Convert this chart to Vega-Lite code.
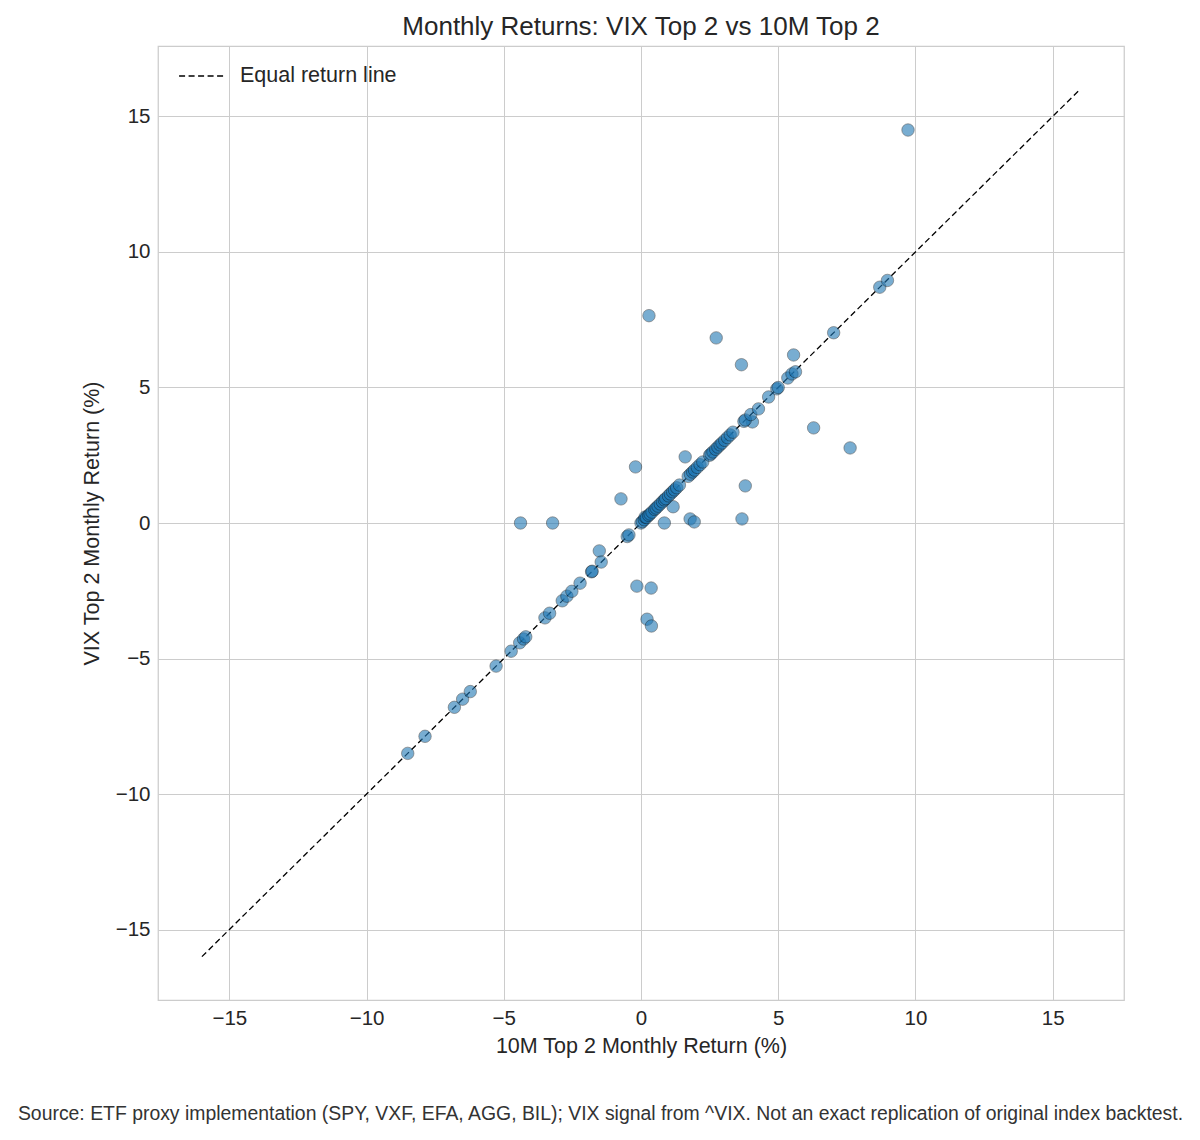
{
  "$schema": "https://vega.github.io/schema/vega-lite/v6.json",
  "width": 966,
  "height": 954,
  "autosize": {"type": "none"},
  "padding": {"left": 158, "top": 46, "right": 76, "bottom": 140},
  "background": "white",
  "title": {
    "text": "Monthly Returns: VIX Top 2 vs 10M Top 2",
    "font": "Liberation Sans",
    "fontSize": 26,
    "fontWeight": "normal",
    "color": "#262626",
    "offset": 6
  },
  "config": {
    "view": {"stroke": "#cccccc", "strokeWidth": 1.25},
    "axis": {
      "domain": false,
      "ticks": false,
      "gridColor": "#cccccc",
      "gridWidth": 1,
      "labelFont": "Liberation Sans",
      "labelFontSize": 20.5,
      "labelColor": "#262626",
      "labelPadding": 8,
      "titleFont": "Liberation Sans",
      "titleFontSize": 21.5,
      "titleFontWeight": "normal",
      "titleColor": "#262626"
    },
    "legend": {
      "labelFont": "Liberation Sans",
      "labelFontSize": 21.5,
      "labelColor": "#262626"
    }
  },
  "resolve": {"axis": {"x": "independent"}},
  "layer": [
    {
      "data": {
        "values": [
          {"vm": -16, "vix": -16, "series": "Equal return line"},
          {"vm": 16, "vix": 16, "series": "Equal return line"}
        ]
      },
      "mark": {"type": "line", "color": "black", "strokeWidth": 1.3},
      "encoding": {
        "x": {
          "field": "vm",
          "type": "quantitative",
          "scale": {"domain": [-17.6, 17.6], "nice": false, "zero": false},
          "axis": {
            "orient": "bottom",
            "values": [-15, -10, -5, 0, 5, 10, 15],
            "title": "10M Top 2 Monthly Return (%)",
            "titlePadding": 7
          }
        },
        "y": {
          "field": "vix",
          "type": "quantitative",
          "scale": {"domain": [-17.6, 17.6], "nice": false, "zero": false},
          "axis": {
            "values": [-15, -10, -5, 0, 5, 10, 15],
            "title": "VIX Top 2 Monthly Return (%)",
            "titlePadding": 12
          }
        },
        "strokeDash": {
          "field": "series",
          "type": "nominal",
          "scale": {"range": [[6, 3.5]]},
          "legend": {
            "title": null,
            "orient": "none",
            "legendX": 20,
            "legendY": 6,
            "symbolType": "stroke",
            "symbolSize": 2100,
            "symbolStrokeColor": "black",
            "symbolStrokeWidth": 1.3,
            "labelOffset": 14
          }
        }
      }
    },
    {
      "data": {
        "values": [
          {"vm": 9.73, "vix": 14.5},
          {"vm": 0.29, "vix": 7.65},
          {"vm": 2.74, "vix": 6.83},
          {"vm": 3.66, "vix": 5.84},
          {"vm": 5.56, "vix": 6.2},
          {"vm": 6.29, "vix": 3.51},
          {"vm": 7.62, "vix": 2.77},
          {"vm": -0.2, "vix": 2.07},
          {"vm": 1.61, "vix": 2.44},
          {"vm": 3.8, "vix": 1.37},
          {"vm": -0.73, "vix": 0.89},
          {"vm": 1.17, "vix": 0.6},
          {"vm": -4.39, "vix": 0},
          {"vm": -3.22, "vix": 0},
          {"vm": 0.85, "vix": 0},
          {"vm": 1.79, "vix": 0.15},
          {"vm": 1.94, "vix": 0.04},
          {"vm": 3.68, "vix": 0.15},
          {"vm": -1.52, "vix": -1.03},
          {"vm": -0.15, "vix": -2.33},
          {"vm": 0.37, "vix": -2.4},
          {"vm": 0.22, "vix": -3.55},
          {"vm": 0.38, "vix": -3.8},
          {"vm": 4.06, "vix": 3.73},
          {"vm": -8.5, "vix": -8.5},
          {"vm": -7.87, "vix": -7.87},
          {"vm": -6.8, "vix": -6.8},
          {"vm": -6.5, "vix": -6.5},
          {"vm": -6.22, "vix": -6.22},
          {"vm": -5.28, "vix": -5.28},
          {"vm": -4.73, "vix": -4.73},
          {"vm": -4.42, "vix": -4.42},
          {"vm": -4.28, "vix": -4.28},
          {"vm": -4.2, "vix": -4.2},
          {"vm": -3.5, "vix": -3.5},
          {"vm": -3.33, "vix": -3.33},
          {"vm": -2.87, "vix": -2.87},
          {"vm": -2.7, "vix": -2.7},
          {"vm": -2.52, "vix": -2.52},
          {"vm": -2.22, "vix": -2.22},
          {"vm": -1.8, "vix": -1.8},
          {"vm": -1.78, "vix": -1.78},
          {"vm": -1.45, "vix": -1.44},
          {"vm": -0.5, "vix": -0.5},
          {"vm": -0.44, "vix": -0.44},
          {"vm": 0.0, "vix": 0.0},
          {"vm": 0.05, "vix": 0.05},
          {"vm": 0.12, "vix": 0.12},
          {"vm": 0.15, "vix": 0.22},
          {"vm": 0.2, "vix": 0.2},
          {"vm": 0.28, "vix": 0.28},
          {"vm": 0.33, "vix": 0.33},
          {"vm": 0.4, "vix": 0.4},
          {"vm": 0.5, "vix": 0.5},
          {"vm": 0.55, "vix": 0.55},
          {"vm": 0.62, "vix": 0.62},
          {"vm": 0.7, "vix": 0.7},
          {"vm": 0.78, "vix": 0.78},
          {"vm": 0.85, "vix": 0.85},
          {"vm": 0.9, "vix": 0.9},
          {"vm": 1.0, "vix": 1.0},
          {"vm": 1.07, "vix": 1.07},
          {"vm": 1.15, "vix": 1.15},
          {"vm": 1.22, "vix": 1.22},
          {"vm": 1.3, "vix": 1.3},
          {"vm": 1.4, "vix": 1.4},
          {"vm": 1.72, "vix": 1.72},
          {"vm": 1.8, "vix": 1.8},
          {"vm": 1.88, "vix": 1.88},
          {"vm": 1.95, "vix": 1.95},
          {"vm": 2.05, "vix": 2.05},
          {"vm": 2.15, "vix": 2.15},
          {"vm": 2.25, "vix": 2.25},
          {"vm": 2.5, "vix": 2.5},
          {"vm": 2.55, "vix": 2.55},
          {"vm": 2.62, "vix": 2.62},
          {"vm": 2.72, "vix": 2.72},
          {"vm": 2.8, "vix": 2.8},
          {"vm": 2.88, "vix": 2.88},
          {"vm": 2.95, "vix": 2.95},
          {"vm": 3.05, "vix": 3.05},
          {"vm": 3.15, "vix": 3.15},
          {"vm": 3.25, "vix": 3.25},
          {"vm": 3.35, "vix": 3.35},
          {"vm": 3.75, "vix": 3.75},
          {"vm": 3.8, "vix": 3.8},
          {"vm": 4.0, "vix": 4.0},
          {"vm": 4.28, "vix": 4.21},
          {"vm": 4.65, "vix": 4.65},
          {"vm": 4.95, "vix": 4.95},
          {"vm": 5.0, "vix": 5.0},
          {"vm": 5.35, "vix": 5.35},
          {"vm": 5.5, "vix": 5.5},
          {"vm": 5.63, "vix": 5.58},
          {"vm": 7.02, "vix": 7.02},
          {"vm": 8.7, "vix": 8.7},
          {"vm": 8.98, "vix": 8.95}
        ]
      },
      "mark": {
        "type": "circle",
        "size": 155,
        "fill": "#1f77b4",
        "stroke": "black",
        "strokeWidth": 0.6,
        "opacity": 0.6
      },
      "encoding": {
        "x": {
          "field": "vm",
          "type": "quantitative",
          "axis": {
            "orient": "bottom",
            "labels": false,
            "grid": false,
            "title": "Source: ETF proxy implementation (SPY, VXF, EFA, AGG, BIL); VIX signal from ^VIX. Not an exact replication of original index backtest.",
            "titleFontSize": 19.4,
            "titleColor": "#333333",
            "titleX": 442,
            "titleY": 113,
            "titleAlign": "center",
            "titleBaseline": "middle"
          }
        },
        "y": {"field": "vix", "type": "quantitative"}
      }
    }
  ]
}
